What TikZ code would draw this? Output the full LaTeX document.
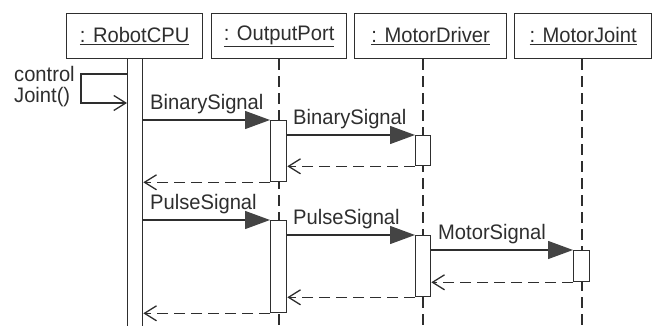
\documentclass[tikz,border=0pt]{standalone}
\usepackage{fontspec}
\setmainfont[FakeStretch=0.96]{Liberation Sans}
\usetikzlibrary{arrows.meta}
\definecolor{ink}{HTML}{2E2E2E}
\definecolor{tipfill}{HTML}{444444}
\begin{document}
\begin{tikzpicture}[x=1pt,y=-1pt,
  every node/.style={font=\fontsize{21}{24}\selectfont, text=ink, inner sep=0pt},
  header/.style={draw=ink, line width=1.3pt, minimum height=45pt, anchor=north west},
  actbar/.style={draw=ink, fill=white, line width=1.3pt, minimum width=15pt, anchor=north west},
  lifeline/.style={draw=ink, line width=1.3pt, dash pattern=on 11pt off 6pt},
  call/.style={draw=ink, line width=1.3pt, -{Triangle[length=25pt,width=18pt,fill=tipfill,color=tipfill]}},
  reply/.style={draw=ink, line width=1.3pt, dash pattern=on 11pt off 6pt, -{Straight Barb[length=12pt,width=15pt,line width=1.3pt]}},
  selfcall/.style={draw=ink, line width=1.3pt, -{Straight Barb[length=12pt,width=15pt,line width=1.3pt]}},
  msglabel/.style={anchor=base west}
]
\useasboundingbox (0,0) rectangle (659,326);

% object headers
\node[header, minimum width=136pt] (cpu) at (66,13) {\underline{: RobotCPU}};
\node[header, minimum width=135pt] (port) at (211,13) {\underline{: OutputPort}};
\node[header, minimum width=152pt] (drv) at (354,13) {\underline{: MotorDriver}};
\node[header, minimum width=137pt] (joint) at (514,13) {\underline{: MotorJoint}};

% lifelines
\coordinate (portEnd) at (279,330);
\coordinate (drvEnd) at (423,330);
\coordinate (jointEnd) at (582,330);
\draw[lifeline] (portEnd |- port.south) -- (portEnd);
\draw[lifeline] (drvEnd |- drv.south) -- (drvEnd);
\draw[lifeline] (jointEnd |- joint.south) -- (jointEnd);

% activation bars
\node[actbar, minimum height=275pt] (cpubar) at (127,58) {};
\node[actbar, minimum height=61pt, minimum width=16pt] (op1) at (270,120) {};
\node[actbar, minimum height=30pt] (md1) at (415,135) {};
\node[actbar, minimum height=92pt, minimum width=16pt] (op2) at (270,220) {};
\node[actbar, minimum height=61pt] (md2) at (415,235) {};
\node[actbar, minimum height=31pt, minimum width=16pt] (mj) at (573,250) {};

% self call
\coordinate (loopA) at (81,74);
\coordinate (loopB) at (81,103);
\draw[selfcall] (loopA -| cpubar.west) -- (loopA) -- (loopB) -- (loopB -| cpubar.west);
\node[anchor=base west] (ctl1) at (14,82) {control};
\node[anchor=base west] (ctl2) at (14,103) {Joint()};

% first exchange
\draw[call] (op1.north west -| cpubar.east) -- (op1.north west);
\node[msglabel] (l1) at (150,110) {BinarySignal};
\draw[call] (md1.north west -| op1.east) -- (md1.north west);
\node[msglabel] (l2) at (293,125) {BinarySignal};
\draw[reply] (md1.south west) -- (md1.south west -| op1.east);
\draw[reply] (op1.south west) -- (op1.south west -| cpubar.east);

% second exchange
\draw[call] (op2.north west -| cpubar.east) -- (op2.north west);
\node[msglabel] (l3) at (150,210) {PulseSignal};
\draw[call] (md2.north west -| op2.east) -- (md2.north west);
\node[msglabel] (l4) at (293,225) {PulseSignal};
\draw[call] (mj.north west -| md2.east) -- (mj.north west);
\node[msglabel] (l5) at (438,240) {MotorSignal};
\draw[reply] (mj.south west) -- (mj.south west -| md2.east);
\draw[reply] (md2.south west) -- (md2.south west -| op2.east);
\draw[reply] (op2.south west) -- (op2.south west -| cpubar.east);
\end{tikzpicture}
\end{document}
